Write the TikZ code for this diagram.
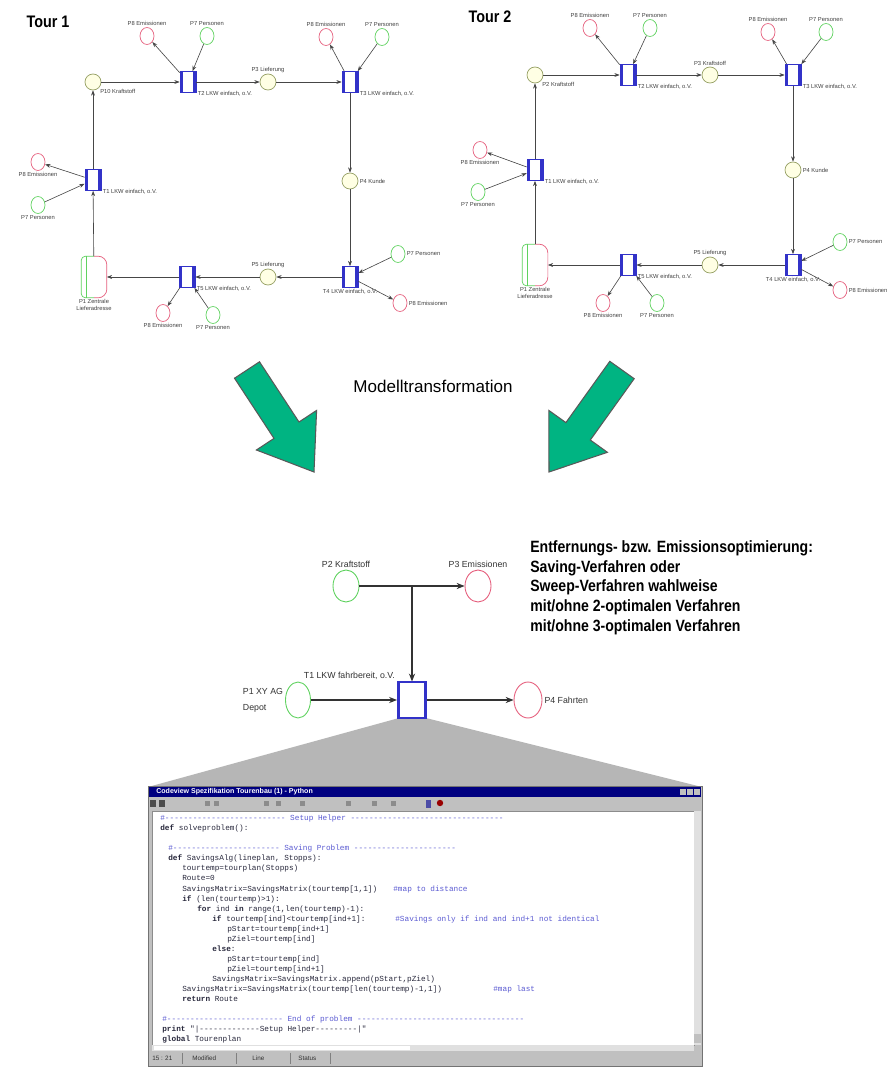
\documentclass[tikz,border=0pt]{standalone}
\usepackage{fontspec}
\setmainfont{Liberation Sans}
\setsansfont{Liberation Sans}
\setmonofont{Liberation Mono}
\newfontfamily\narrowfont[FakeStretch=0.86]{Liberation Sans}
\usetikzlibrary{arrows.meta, positioning, shapes.geometric}

\definecolor{placeline}{RGB}{150,160,100}
\definecolor{placefill}{RGB}{255,255,228}
\definecolor{redline}{RGB}{230,95,125}
\definecolor{greenline}{RGB}{95,210,95}
\definecolor{transblue}{RGB}{50,50,200}
\definecolor{arcgray}{RGB}{70,70,70}
\definecolor{arrowgreen}{RGB}{0,180,130}
\definecolor{winface}{RGB}{192,192,192}
\definecolor{titlenavy}{RGB}{0,0,128}
\definecolor{codeink}{RGB}{40,40,60}
\definecolor{commentink}{RGB}{90,90,210}

\newcommand\nettiny{\fontsize{3.3}{3.9}\selectfont}
\newcommand\netsmall{\fontsize{5}{9}\selectfont}
\newcommand\codefont{\ttfamily\fontsize{4.4}{5}\selectfont}

\tikzset{
    netlabel/.style={font=\nettiny, inner sep=0.6pt, text=black!75},
    biglabel/.style={font=\netsmall, inner sep=1pt, text=black!80},
    place/.style={circle, draw=placeline, fill=placefill, minimum size=0.32cm, inner sep=0pt},
    emis/.style={ellipse, draw=redline, fill=white, minimum width=0.28cm, minimum height=0.34cm, inner sep=0pt},
    pers/.style={ellipse, draw=greenline, fill=white, minimum width=0.28cm, minimum height=0.34cm, inner sep=0pt},
    trans/.style={rectangle, draw=transblue, fill=white, minimum width=0.32cm, minimum height=0.42cm, inner sep=0pt,
        path picture={\draw[transblue, line width=3pt]
            (path picture bounding box.north west) -- (path picture bounding box.south west)
            (path picture bounding box.north east) -- (path picture bounding box.south east);}},
    bigtrans/.style={trans, minimum width=0.58cm, minimum height=0.72cm, line width=0.6pt},
    bigplace/.style={rectangle, minimum width=0.5cm, minimum height=0.82cm, inner sep=0pt},
    netarc/.style={draw=arcgray, line width=0.35pt, -{Stealth[length=3pt, width=2.2pt]}},
    bignetarc/.style={draw=black!80, line width=0.6pt, -{Stealth[length=4.5pt, width=3.5pt]}},
    bigarrow/.style={fill=arrowgreen, draw=black!65, line width=0.6pt, line join=miter},
    tourtitle/.style={font=\narrowfont\bfseries\fontsize{9.5}{11}\selectfont},
    codeline/.style={anchor=base west, inner sep=0pt, font=\codefont, text=codeink},
    comment/.style={codeline, text=commentink},
    statustext/.style={anchor=west, inner sep=0pt, font=\fontsize{3.6}{4}\selectfont, text=black!80},
}

% place split in a green and a red half
\newcommand\bigplace[3]{%
    \node[bigplace, label={[netlabel, align=center]below:#3}] (#1) at (#2) {};
    \draw[greenline, rounded corners=2.5pt] (#1.north) -- (#1.north west) -- (#1.south west) -- (#1.south);
    \draw[greenline] ([xshift=3pt]#1.north west) -- ([xshift=3pt]#1.south west);
    \draw[redline, rounded corners=5pt] (#1.north) -- (#1.north east) -- (#1.south east) -- (#1.south);
}

\begin{document}
\begin{tikzpicture}[x=0.02cm, y=-0.02cm, font=\sffamily]
    \fill[white] (0,0) rectangle (888,1068);
    \useasboundingbox (0,0) rectangle (888,1068);

    % ---------------- Tour 1
    \node[tourtitle] (tour1) at (48,22) {Tour 1};
    \node[place, label={[netlabel]below right:P10 Kraftstoff}] (aQ1) at (93,82) {};
    \node[trans, label={[netlabel]below right:T2 LKW einfach, o.V.}] (aT2) at (188,82) {};
    \node[place, label={[netlabel]above:P3 Lieferung}] (aQ2) at (268,82) {};
    \node[trans, label={[netlabel]below right:T3 LKW einfach, o.V.}] (aT3) at (350,82) {};
    \node[place, label={[netlabel]right:P4 Kunde}] (aQ3) at (350,181) {};
    \node[trans, label={[netlabel]below:T4 LKW einfach, o.V.}] (aT4) at (350,277) {};
    \node[place, label={[netlabel]above:P5 Lieferung}] (aQ4) at (268,277) {};
    \node[trans, label={[netlabel]below right:T5 LKW einfach, o.V.}] (aT5) at (187,277) {};
    \bigplace{aQ5}{94,277}{P1 Zentrale\\Lieferadresse}
    \node[trans, label={[netlabel]below right:T1 LKW einfach, o.V.}] (aT1) at (93,180) {};

    \node[emis, label={[netlabel]above:P8 Emissionen}] (aR2) at (147,36) {};
    \node[pers, label={[netlabel]above:P7 Personen}] (aG2) at (207,36) {};
    \node[emis, label={[netlabel]above:P8 Emissionen}] (aR3) at (326,37) {};
    \node[pers, label={[netlabel]above:P7 Personen}] (aG3) at (382,37) {};
    \node[pers, label={[netlabel]right:P7 Personen}] (aG4) at (398,254) {};
    \node[emis, label={[netlabel]right:P8 Emissionen}] (aR4) at (400,303) {};
    \node[emis, label={[netlabel]below:P8 Emissionen}] (aR5) at (163,313) {};
    \node[pers, label={[netlabel]below:P7 Personen}] (aG5) at (213,315) {};
    \node[emis, label={[netlabel]below:P8 Emissionen}] (aR1) at (38,162) {};
    \node[pers, label={[netlabel]below:P7 Personen}] (aG1) at (38,205) {};

    % ---------------- Tour 2
    \node[tourtitle] (tour2) at (490,17) {Tour 2};
    \node[place, label={[netlabel]below right:P2 Kraftstoff}] (bQ1) at (535,75) {};
    \node[trans, label={[netlabel]below right:T2 LKW einfach, o.V.}] (bT2) at (628,75) {};
    \node[place, label={[netlabel]above:P3 Kraftstoff}] (bQ2) at (710,75) {};
    \node[trans, label={[netlabel]below right:T3 LKW einfach, o.V.}] (bT3) at (793,75) {};
    \node[place, label={[netlabel]right:P4 Kunde}] (bQ3) at (793,170) {};
    \node[trans, label={[netlabel]below:T4 LKW einfach, o.V.}] (bT4) at (793,265) {};
    \node[place, label={[netlabel]above:P5 Lieferung}] (bQ4) at (710,265) {};
    \node[trans, label={[netlabel]below right:T5 LKW einfach, o.V.}] (bT5) at (628,265) {};
    \bigplace{bQ5}{535,265}{P1 Zentrale\\Lieferadresse}
    \node[trans, label={[netlabel]below right:T1 LKW einfach, o.V.}] (bT1) at (535,170) {};

    \node[emis, label={[netlabel]above:P8 Emissionen}] (bR2) at (590,28) {};
    \node[pers, label={[netlabel]above:P7 Personen}] (bG2) at (650,28) {};
    \node[emis, label={[netlabel]above:P8 Emissionen}] (bR3) at (768,32) {};
    \node[pers, label={[netlabel]above:P7 Personen}] (bG3) at (826,32) {};
    \node[pers, label={[netlabel]right:P7 Personen}] (bG4) at (840,242) {};
    \node[emis, label={[netlabel]right:P8 Emissionen}] (bR4) at (840,290) {};
    \node[emis, label={[netlabel]below:P8 Emissionen}] (bR5) at (603,303) {};
    \node[pers, label={[netlabel]below:P7 Personen}] (bG5) at (657,303) {};
    \node[emis, label={[netlabel]below:P8 Emissionen}] (bR1) at (480,150) {};
    \node[pers, label={[netlabel]below:P7 Personen}] (bG1) at (478,192) {};

    % arcs of both tours
    \foreach \net in {a,b}{
        \foreach \u/\v in {Q1/T2, T2/Q2, Q2/T3, T3/Q3, Q3/T4, T4/Q4, Q4/T5, T5/Q5, Q5/T1, T1/Q1}
            \draw[netarc] (\net\u) -- (\net\v);
        \foreach \idx in {1,...,5}{
            \draw[netarc] (\net G\idx) -- (\net T\idx);
            \draw[netarc] (\net T\idx) -- (\net R\idx);
        }
    }

    % ---------------- transformation
    \draw[bigarrow] (234.5,378.2) -- (259.5,361.8) -- (299,422) -- (316.6,410.4) -- (314,472) -- (256.4,450) -- (274,438.4) -- cycle;
    \draw[bigarrow] (609.8,361.3) -- (634.2,378.7) -- (590.3,440) -- (607.4,452.3) -- (549,472) -- (548.8,410.4) -- (565.9,422.6) -- cycle;
    \node[font=\fontsize{9.7}{11}\selectfont] (mt) at (433,386) {Modelltransformation};

    % ---------------- aggregated net
    \fill[winface!95!black] (399,718) -- (426,718) -- (702,787) -- (148,787) -- cycle;

    \node[ellipse, draw=greenline, fill=white, minimum width=0.52cm, minimum height=0.64cm, line width=0.5pt,
          label={[biglabel]above:P2 Kraftstoff}] (kraft) at (346,586) {};
    \node[ellipse, draw=redline, fill=white, minimum width=0.52cm, minimum height=0.64cm, line width=0.5pt,
          label={[biglabel]above:P3 Emissionen}] (emiss) at (478,586) {};
    \coordinate (junc) at (412,586);
    \node[bigtrans, label={[biglabel, anchor=south east]north west:T1 LKW fahrbereit, o.V.}] (tlkw) at (412,700) {};
    \node[ellipse, draw=greenline, fill=white, minimum width=0.5cm, minimum height=0.72cm, line width=0.5pt,
          label={[biglabel, align=left]left:P1 XY AG\\Depot}] (depot) at (298,700) {};
    \node[ellipse, draw=redline, fill=white, minimum width=0.56cm, minimum height=0.72cm, line width=0.5pt,
          label={[biglabel]right:P4 Fahrten}] (fahrt) at (528,700) {};

    \draw[bignetarc] (kraft) -- (emiss);
    \draw[bignetarc] (junc) -- (tlkw);
    \draw[bignetarc] (depot) -- (tlkw);
    \draw[bignetarc] (tlkw) -- (fahrt);

    \node[font=\narrowfont\bfseries\fontsize{9.3}{11.3}\selectfont, align=left, anchor=north west, inner sep=0pt] (opt) at (530,540)
        {Entfernungs- bzw. Emissionsoptimierung:\\Saving-Verfahren oder\\Sweep-Verfahren wahlweise\\mit/ohne 2-optimalen Verfahren\\mit/ohne 3-optimalen Verfahren};

    % ---------------- editor window
    \fill[winface] (148,786) rectangle (702,1066);
    \draw[black!55, line width=0.3pt] (148,786) rectangle (702,1066);
    \fill[titlenavy] (149,787) rectangle (701,797);
    \node[anchor=west, inner sep=0pt, text=white, font=\bfseries\fontsize{4}{4}\selectfont] (title) at (156,792)
        {Codeview Spezifikation Tourenbau (1) - Python};
    \foreach \bx in {680,687,694}
        \fill[winface] (\bx,789) rectangle ++(6,6);
    % toolbar icons
    \fill[black!70] (150,800) rectangle ++(6,7);
    \fill[black!70] (159,800) rectangle ++(6,7);
    \foreach \ix in {205,214,264,276,300,346,372,391}
        \fill[black!45] (\ix,801) rectangle ++(5,5);
    \fill[titlenavy!70] (426,800) rectangle ++(5,8);
    \fill[red!60!black] (440,803) circle (3.2);
    % text area and scroll bars
    \fill[white] (152,811) rectangle (694,1045);
    \draw[black!45, line width=0.3pt] (152,811) rectangle (694,1045);
    \fill[black!12] (694,811) rectangle (701,1045);
    \fill[winface] (694,1034) rectangle (701,1043);
    \fill[black!12] (152,1045) rectangle (694,1051);
    \fill[white] (154,1046) rectangle (410,1050);
    % status bar
    \foreach \sx in {182,236,290,330}
        \draw[black!50, line width=0.3pt] (\sx,1053) -- (\sx,1064);
    \node[statustext] (st1) at (152,1058) {15 : 21};
    \node[statustext] (st2) at (192,1058) {Modified};
    \node[statustext] (st3) at (252,1058) {Line};
    \node[statustext] (st4) at (298,1058) {Status};

    % code
    \node[comment] (c1) at (160,820) {\#-------------------------- Setup Helper ---------------------------------};
    \node[codeline] (c2) at (160,830) {\textbf{def} solveproblem():};
    \node[comment] (c3) at (168,850) {\#----------------------- Saving Problem ----------------------};
    \node[codeline] (c4) at (168,860) {\textbf{def} SavingsAlg(lineplan, Stopps):};
    \node[codeline] (c5) at (182,870) {tourtemp=tourplan(Stopps)};
    \node[codeline] (c6) at (182,880) {Route=0};
    \node[codeline] (c7) at (182,891) {SavingsMatrix=SavingsMatrix(tourtemp[1,1])};
    \node[comment] (c7c) at (393,891) {\#map to distance};
    \node[codeline] (c8) at (182,901) {\textbf{if} (len(tourtemp)>1):};
    \node[codeline] (c9) at (197,911) {\textbf{for} ind \textbf{in} range(1,len(tourtemp)-1):};
    \node[codeline] (c10) at (212,921) {\textbf{if} tourtemp[ind]<tourtemp[ind+1]:};
    \node[comment] (c10c) at (395,921) {\#Savings only if ind and ind+1 not identical};
    \node[codeline] (c11) at (227,931) {pStart=tourtemp[ind+1]};
    \node[codeline] (c12) at (227,941) {pZiel=tourtemp[ind]};
    \node[codeline] (c13) at (212,951) {\textbf{else}:};
    \node[codeline] (c14) at (227,961) {pStart=tourtemp[ind]};
    \node[codeline] (c15) at (227,971) {pZiel=tourtemp[ind+1]};
    \node[codeline] (c16) at (212,981) {SavingsMatrix=SavingsMatrix.append(pStart,pZiel)};
    \node[codeline] (c17) at (182,991) {SavingsMatrix=SavingsMatrix(tourtemp[len(tourtemp)-1,1])};
    \node[comment] (c17c) at (493,991) {\#map last};
    \node[codeline] (c18) at (182,1001) {\textbf{return} Route};
    \node[comment] (c19) at (162,1021) {\#------------------------- End of problem ------------------------------------};
    \node[codeline] (c20) at (162,1031) {\textbf{print} "|-------------Setup Helper---------|"};
    \node[codeline] (c21) at (162,1041) {\textbf{global} Tourenplan};
\end{tikzpicture}
\end{document}
